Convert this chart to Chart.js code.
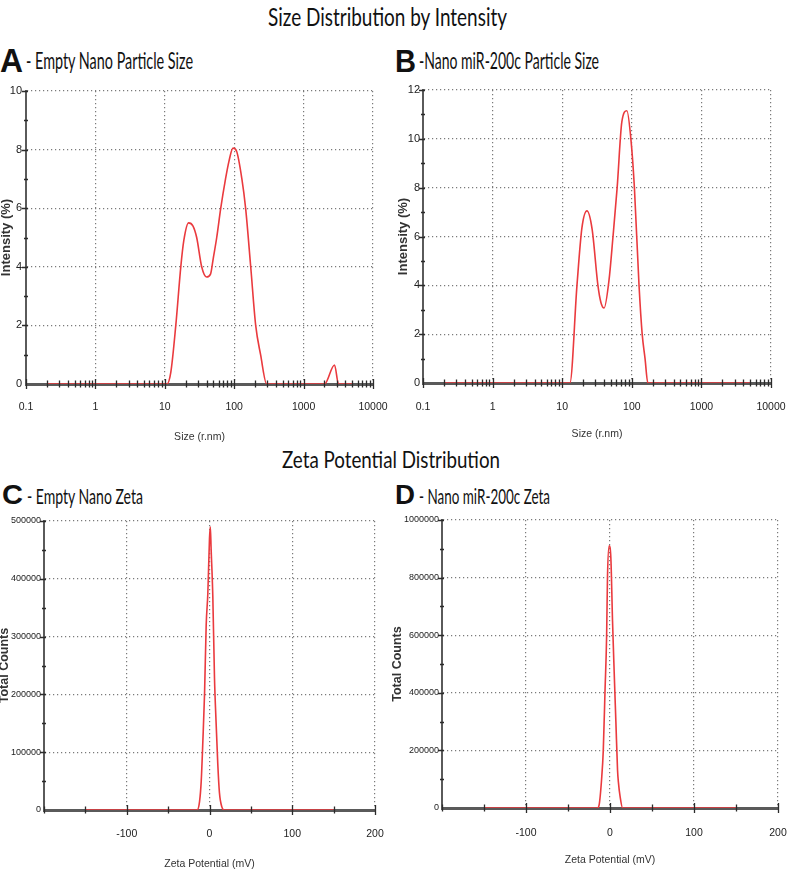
<!DOCTYPE html>
<html lang="en">
<head>
<meta charset="UTF-8">
<title>Size Distribution by Intensity / Zeta Potential Distribution</title>
<script src="https://cdn.jsdelivr.net/npm/chart.js"></script>
<style>
    body { margin: 0; background: #ffffff; }
    #page {
        position: relative;
        width: 787px;
        height: 874px;
        overflow: hidden;
        background: #ffffff;
        color: #111;
        font-family: Lato, "Liberation Sans", sans-serif;
    }
    .head, .letter {
        position: absolute;
        white-space: nowrap;
        line-height: 1;
        transform-origin: 0 0;
    }
    .letter {
        font-family: "Liberation Sans", Arial, sans-serif;
        font-weight: bold;
    }
    .box { position: absolute; }
    .box canvas { display: block; }
</style>
</head>
<body>
<div id="page">
    <div class="head" style="left:268px; top:4px; font-size:25px;" data-w="239">Size Distribution by Intensity</div>

    <div class="letter" style="left:0px; top:44px; font-size:33px;" data-w="23">A</div>
    <div class="head" style="left:26px; top:49px; font-size:23px;" data-w="167">- Empty Nano Particle Size</div>
    <div class="letter" style="left:395px; top:46px; font-size:31px;" data-w="21">B</div>
    <div class="head" style="left:419px; top:49px; font-size:23px;" data-w="180">-Nano miR-200c Particle Size</div>

    <div class="box" style="left:0px; top:80px;"><canvas id="chartA" width="392" height="365"></canvas></div>
    <div class="box" style="left:392px; top:80px;"><canvas id="chartB" width="395" height="365"></canvas></div>

    <div class="head" style="left:282px; top:448px; font-size:23px;" data-w="218">Zeta Potential Distribution</div>

    <div class="letter" style="left:2px; top:481px; font-size:28px;" data-w="21">C</div>
    <div class="head" style="left:27px; top:485px; font-size:22px;" data-w="116">- Empty Nano Zeta</div>
    <div class="letter" style="left:395px; top:481px; font-size:28px;" data-w="20">D</div>
    <div class="head" style="left:419px; top:485px; font-size:22px;" data-w="131">- Nano miR-200c Zeta</div>

    <div class="box" style="left:0px; top:505px;"><canvas id="chartC" width="392" height="369"></canvas></div>
    <div class="box" style="left:392px; top:505px;"><canvas id="chartD" width="395" height="369"></canvas></div>
</div>

<script>
    // A - empty nano particle size distribution (size r.nm vs intensity %)
    const sizeEmpty      = [0.2, 1, 10, 10.7, 12.2, 14.4, 17, 18.8, 22, 25.4, 28.8, 34, 40, 45.6, 50, 56, 64, 75, 84, 96, 108, 129, 146, 173, 204, 240, 294, 2000, 2790, 3180, 5100];
    const intensityEmpty = [0, 0, 0, 0, 0.4, 2.0, 4.0, 4.9, 5.5, 5.4, 5.0, 4.0, 3.65, 3.75, 4.3, 5.0, 6.0, 7.0, 7.6, 8.05, 7.95, 7.0, 6.0, 4.0, 2.0, 1.0, 0, 0, 0.65, 0, 0];

    // B - nano miR-200c particle size distribution
    const sizeMir      = [0.2, 1, 10, 12.9, 16.3, 19.2, 22.7, 26.9, 32.6, 36, 40, 47, 53.7, 61.6, 72, 85, 97, 109, 127, 141, 155, 170, 5000];
    const intensityMir = [0, 0, 0, 0, 4.0, 6.35, 7.05, 6.3, 4.0, 3.3, 3.07, 4.2, 6.0, 8.0, 10.7, 11.15, 10.0, 8.0, 4.0, 2.0, 1.0, 0, 0];

    // C - empty nano zeta potential (mV vs total counts)
    const zetaEmpty   = [-150, -15, -12, -10, -8, -6, -4, -2, 0, 1, 2, 4, 6, 8, 10, 12, 15, 18, 150];
    const countsEmpty = [0, 0, 15000, 50000, 120000, 200000, 320000, 375000, 470000, 490000, 450000, 370000, 230000, 150000, 80000, 30000, 5000, 0, 0];

    // D - nano miR-200c zeta potential
    const zetaMir   = [-150, -15, -13, -10, -8, -6, -4, -3, -1, 1, 3, 5, 7, 9, 10, 12, 15, 150];
    const countsMir = [0, 0, 10000, 100000, 200000, 400000, 600000, 800000, 910000, 870000, 650000, 470000, 300000, 130000, 90000, 40000, 0, 0];

    // tick labels
    const sizeLabels       = [0.1, 1, 10, 100, 1000, 10000];
    const zetaLabels       = [-100, 0, 100, 200];
    const intensityLabelsA = [0, 2, 4, 6, 8, 10];
    const intensityLabelsB = [0, 2, 4, 6, 8, 10, 12];
    const countLabelsC     = [0, 100000, 200000, 300000, 400000, 500000];
    const countLabelsD     = [0, 200000, 400000, 600000, 800000, 1000000];

    const sans = "'Liberation Sans', Arial, sans-serif";
    const gridGrey = '#7a7a7a';
    const axisGrey = '#5a5a5a';
    const red = '#ea3a3e';

    // stretch the html headings to the widths they have in the figure
    document.querySelectorAll('[data-w]').forEach(el => {
        const w = el.getBoundingClientRect().width;
        el.style.transform = 'scaleX(' + (el.dataset.w / w) + ')';
    });

    function logTicks(min, max) {
        const out = [];
        for (let k = Math.round(Math.log10(min)); k < Math.round(Math.log10(max)); k++) {
            for (let d = 1; d <= 9; d++) out.push(+(d * Math.pow(10, k)).toPrecision(6));
        }
        out.push(max);
        return out;
    }

    // short tick marks across the axes, like the instrument software draws them
    function axisMarks(xMajor, yMajor) {
        return {
            id: 'axisMarks',
            afterDatasetsDraw(chart) {
                const {ctx, chartArea: a, scales: {x, y}} = chart;
                ctx.save();
                ctx.strokeStyle = '#2b2b2b';
                ctx.lineWidth = 1.3;
                ctx.beginPath();
                x.ticks.forEach(t => {
                    const p = Math.round(x.getPixelForValue(t.value)) + 0.5;
                    const h = xMajor(t.value) ? 5 : 3.5;
                    ctx.moveTo(p, a.bottom - h);
                    ctx.lineTo(p, a.bottom + h);
                });
                y.ticks.forEach(t => {
                    if (t.value === y.min) return;
                    const p = Math.round(y.getPixelForValue(t.value)) + 0.5;
                    const major = yMajor(t.value);
                    ctx.moveTo(a.left - (major ? 4 : 2), p);
                    ctx.lineTo(a.left + 2, p);
                });
                ctx.stroke();
                ctx.restore();
            }
        };
    }

    function drawPanel(id, xs, ys, s) {
        const xMajor = v => s.xLabels.includes(v);
        const yMajor = v => s.yLabels.includes(v);
        const xScale = {
            type: s.xLog ? 'logarithmic' : 'linear',
            min: s.xMin,
            max: s.xMax,
            afterFit: sc => { sc.height = s.xH; sc.paddingLeft = 0; sc.paddingRight = 0; },
            grid: {
                drawTicks: false,
                lineWidth: 1.2,
                color: c => (c.tick && xMajor(c.tick.value) && c.tick.value !== s.xMin) ? gridGrey : 'transparent'
            },
            border: { display: true, color: axisGrey, width: 3, dash: [1.2, 2.8] },
            ticks: {
                autoSkip: false,
                maxRotation: 0,
                padding: s.xTickPad,
                color: '#222',
                font: { family: sans, size: 10.5 },
                callback: v => (xMajor(v) && v !== s.xHide) ? String(v) : ''
            },
            title: {
                display: true,
                text: s.xTitle,
                color: '#333',
                font: { family: sans, size: 10.5 },
                padding: { top: 0, bottom: s.xTitlePad }
            }
        };
        if (s.xLog) {
            xScale.afterBuildTicks = sc => { sc.ticks = logTicks(s.xMin, s.xMax).map(v => ({value: v})); };
        } else {
            xScale.ticks.stepSize = s.xStep;
        }

        new Chart(document.getElementById(id), {
            type: 'line',
            data: {
                datasets: [{
                    data: xs.map((x, i) => ({x: x, y: ys[i]})),
                    borderColor: red,
                    borderWidth: 1.6,
                    pointRadius: 0,
                    fill: false,
                    cubicInterpolationMode: 'monotone'
                }]
            },
            options: {
                responsive: false,
                animation: false,
                events: [],
                devicePixelRatio: 1,
                layout: { padding: { top: s.padTop, right: s.padRight, left: 0, bottom: 0 } },
                plugins: { legend: { display: false }, tooltip: { enabled: false } },
                scales: {
                    x: xScale,
                    y: {
                        min: 0,
                        max: s.yMax,
                        afterFit: sc => { sc.width = s.yW; sc.paddingTop = 0; sc.paddingBottom = 0; },
                        grid: {
                            drawTicks: false,
                            lineWidth: 1.2,
                            color: c => (c.tick && c.tick.value > 0 && yMajor(c.tick.value)) ? gridGrey : 'transparent'
                        },
                        border: { display: true, color: axisGrey, width: 2, dash: [1.2, 2.8] },
                        ticks: {
                            stepSize: s.yStep,
                            autoSkip: false,
                            padding: s.yTickPad,
                            color: '#222',
                            font: { family: sans, size: s.yFont },
                            callback: v => yMajor(v) ? String(v) : ''
                        },
                        title: {
                            display: true,
                            text: s.yTitle,
                            color: '#333',
                            font: { family: sans, weight: 'bold', size: s.yTitleSize, lineHeight: 1 },
                            padding: { top: s.yTitlePad, bottom: 0 }
                        }
                    }
                }
            },
            plugins: [axisMarks(xMajor, yMajor)]
        });
    }

    drawPanel('chartA', sizeEmpty, intensityEmpty, {
        xLog: true, xMin: 0.1, xMax: 10000, xLabels: sizeLabels, xTitle: 'Size (r.nm)',
        yMax: 10, yStep: 1, yLabels: intensityLabelsA, yTitle: 'Intensity (%)', yFont: 11, yTitleSize: 13,
        yW: 26, xH: 61, padTop: 11, padRight: 19, xTickPad: 16.5, xTitlePad: 1.4, yTickPad: 4, yTitlePad: -0.5
    });
    drawPanel('chartB', sizeMir, intensityMir, {
        xLog: true, xMin: 0.1, xMax: 10000, xLabels: sizeLabels, xTitle: 'Size (r.nm)',
        yMax: 12, yStep: 1, yLabels: intensityLabelsB, yTitle: 'Intensity (%)', yFont: 11, yTitleSize: 13,
        yW: 31, xH: 62, padTop: 10, padRight: 16, xTickPad: 17.5, xTitlePad: 4.4, yTickPad: 3, yTitlePad: 5
    });
    drawPanel('chartC', zetaEmpty, countsEmpty, {
        xLog: false, xMin: -200, xMax: 200, xStep: 50, xLabels: zetaLabels, xHide: -200, xTitle: 'Zeta Potential (mV)',
        yMax: 500000, yStep: 50000, yLabels: countLabelsC, yTitle: 'Total Counts', yFont: 9, yTitleSize: 12.5,
        yW: 44, xH: 64, padTop: 16, padRight: 17, xTickPad: 17.5, xTitlePad: 3.4, yTickPad: 3, yTitlePad: -1.5
    });
    drawPanel('chartD', zetaMir, countsMir, {
        xLog: false, xMin: -200, xMax: 200, xStep: 50, xLabels: zetaLabels, xHide: -200, xTitle: 'Zeta Potential (mV)',
        yMax: 1000000, yStep: 100000, yLabels: countLabelsD, yTitle: 'Total Counts', yFont: 9, yTitleSize: 12.5,
        yW: 50, xH: 66, padTop: 15, padRight: 9, xTickPad: 18.5, xTitlePad: 7.4, yTickPad: 3, yTitlePad: -1
    });
</script>
</body>
</html>
